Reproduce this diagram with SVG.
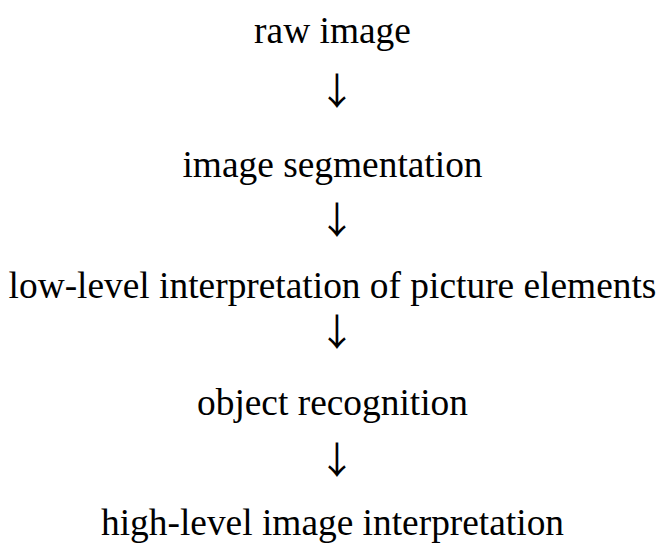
<svg xmlns="http://www.w3.org/2000/svg" width="665" height="543" viewBox="0 0 665 543">
<style>
text{font-family:"Liberation Serif","Times New Roman",serif;font-size:37.4px;fill:#000;text-anchor:middle}
.arr{font-family:"Noto Sans CJK SC","DejaVu Serif",serif}
</style>
<rect width="665" height="543" fill="#fff"/>
<g id="n1"><text x="332.5" y="43">raw image</text></g>
<g id="n2"><text x="332.5" y="177">image segmentation</text></g>
<g id="n3"><text x="332.5" y="298">low-level interpretation of picture elements</text></g>
<g id="n4"><text x="332.5" y="415">object recognition</text></g>
<g id="n5"><text x="332.5" y="535">high-level image interpretation</text></g>
<g id="connectors">
<text class="arr" x="337" y="105">↓</text>
<text class="arr" x="337" y="234">↓</text>
<text class="arr" x="337" y="346">↓</text>
<text class="arr" x="337" y="474">↓</text>
</g>
</svg>
